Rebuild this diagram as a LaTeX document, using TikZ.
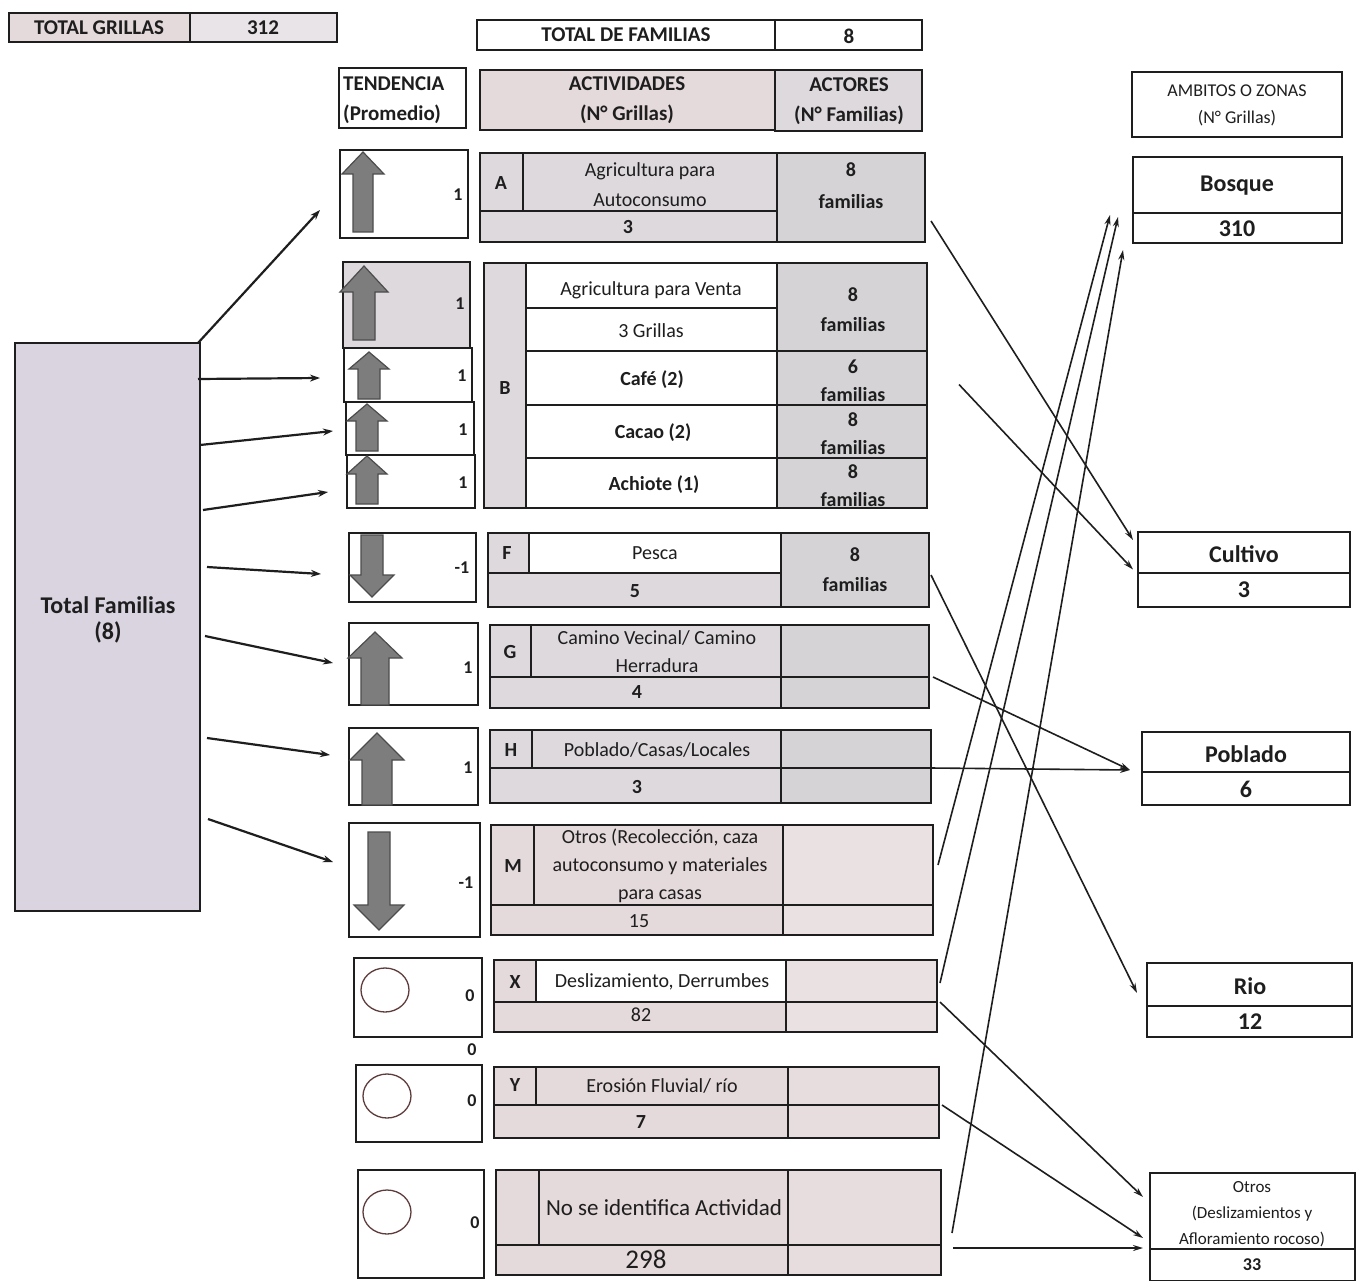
\documentclass[tikz,border=0pt]{standalone}
\usepackage{fontspec}
\setmainfont{Carlito}
\usetikzlibrary{arrows.meta,calc}
\definecolor{ink}{RGB}{30,30,30}
\definecolor{cellg}{RGB}{222,217,221}
\definecolor{actg}{RGB}{213,211,214}
\definecolor{pinkg}{RGB}{228,217,219}
\definecolor{totg}{RGB}{217,212,224}
\definecolor{arrg}{RGB}{125,125,125}
\definecolor{circc}{RGB}{95,60,60}
\newcommand\bx[6][]{\node[box,#1,minimum width={#4-#2},minimum height={#5-#3}] (#6) at (#2,#3) {};}
% block arrow: cx, tip y, head-base y, shaft-end y, head half width, shaft half width
\newcommand\blk[6]{\filldraw[blkarr] ({#1-#6},#4) -- ({#1-#6},#3) -- ({#1-#5},#3) -- (#1,#2) -- ({#1+#5},#3) -- ({#1+#6},#3) -- ({#1+#6},#4) -- cycle;}
\begin{document}
\begin{tikzpicture}[x=1pt,y=-1pt,
 box/.style={draw=ink,line width=1.6pt,anchor=north west,inner sep=0pt,outer sep=0pt,rectangle},
 ln/.style={draw=ink,line width=1.6pt},
 t/.style={font=\fontsize{20}{28}\selectfont,text=ink,align=center,inner sep=0pt},
 tb/.style={font=\fontsize{20}{28}\selectfont\bfseries,text=ink,align=center,inner sep=0pt},
 num/.style={font=\fontsize{18}{20}\selectfont\bfseries,text=ink,inner sep=0pt},
 hd/.style={font=\fontsize{21}{30}\selectfont\bfseries,text=ink,align=center,inner sep=0pt},
 zn/.style={font=\fontsize{24}{28}\selectfont\bfseries,text=ink,inner sep=0pt},
 blkarr/.style={fill=arrg,draw=black!70,line width=1.2pt,line join=miter},
 circ/.style={draw=circc,line width=1.3pt,fill=white},
 lar/.style={draw=ink,line width=2.2pt,-{Stealth[length=10pt,width=7pt]}},
 rar/.style={draw=ink,line width=1.6pt,-{Stealth[length=10pt,width=6pt]}},
]
\useasboundingbox[fill=white] (0,0) rectangle (1364,1281);

% ---------- top totals ----------
\bx[fill=pinkg]{9}{13}{190}{42}{btg}
\bx[fill=cellg!70]{190}{13}{337}{42}{btgv}
\node[hd] (ntg) at (99,28) {TOTAL GRILLAS};
\node[hd] (ntgv) at (263,28) {312};
\bx{477}{20}{775}{50}{btf}
\bx{775}{20}{922}{50}{btfv}
\node[hd] (ntf) at (626,35) {TOTAL DE FAMILIAS};
\node[hd] (ntfv) at (849,36) {8};

% ---------- headers ----------
\bx{339}{68}{466}{128}{bht}
\node[hd,align=left,anchor=west] (nht) at (343,100) {TENDENCIA\\(Promedio)};
\bx[fill=pinkg]{480}{70}{775}{130}{bha}
\node[hd] (nha) at (627,100) {ACTIVIDADES\\(N° Grillas)};
\bx[fill=cellg]{775}{70}{922}{131}{bhc}
\node[hd] (nhc) at (849,101) {ACTORES\\(N° Familias)};
\bx{1132}{72}{1342}{137}{bhz}
\node[font=\fontsize{18}{27}\selectfont,text=ink,align=center,inner sep=0pt] (nhz) at (1237,105) {AMBITOS O ZONAS\\(N° Grillas)};

% ---------- total familias ----------
\bx[fill=totg]{15}{343}{200}{911}{tot}
\node[font=\fontsize{24}{26}\selectfont\bfseries,text=ink,align=center,inner sep=0pt] (ntot) at (108,620) {Total Familias\\(8)};

% ---------- tendency boxes ----------
\bx{340}{150}{468}{238}{tA}
\bx[fill=cellg]{343}{262}{470}{348}{tB}
\bx{344}{348}{472}{402}{tCafe}
\bx{346}{402}{474}{455}{tCacao}
\bx{347}{455}{475}{508}{tAch}
\bx{349}{533}{476}{602}{tF}
\bx{349}{623}{478}{705}{tG}
\bx{349}{728}{478}{805}{tH}
\bx{349}{823}{480}{937}{tM}
\bx{354}{958}{482}{1037}{tX}
\bx{356}{1065}{482}{1142}{tY}
\bx{358}{1170}{484}{1278}{tN}

\blk{363}{152}{174}{232}{21}{10}
\blk{364}{266}{292}{340}{24}{11}
\blk{369}{352}{369}{399}{20}{11}
\blk{367}{404}{421}{451}{20}{11}
\blk{367}{456}{474}{504}{20}{11}
\blk{372}{597}{575}{535}{22}{11}
\blk{375}{632}{658}{705}{27}{14}
\blk{377}{733}{760}{805}{27}{15}
\blk{379}{930}{905}{832}{25}{11}

\draw[circ] (385,990) ellipse [x radius=24,y radius=22];
\draw[circ] (387,1096) ellipse [x radius=24,y radius=22];
\draw[circ] (387,1212) ellipse [x radius=24,y radius=22];

\node[num] (vA) at (458,195) {1};
\node[num] (vB) at (460,304) {1};
\node[num] (vCafe) at (462,376) {1};
\node[num] (vCacao) at (463,430) {1};
\node[num] (vAch) at (463,483) {1};
\node[num] (vF) at (462,568) {-1};
\node[num] (vG) at (468,668) {1};
\node[num] (vH) at (468,768) {1};
\node[num] (vM) at (466,883) {-1};
\node[num] (vX) at (470,996) {0};
\node[num] (vXb) at (472,1050) {0};
\node[num] (vY) at (472,1101) {0};
\node[num] (vN) at (475,1223) {0};

% ---------- activity A ----------
\fill[cellg] (480,153) rectangle (777,242);
\fill[actg] (777,153) rectangle (925,242);
\draw[ln] (523,153) -- (523,211) (480,211) -- (777,211) (777,153) -- (777,242);
\bx{480}{153}{925}{242}{aA}
\node[tb] (lA) at (501,183) {A};
\node[t,font=\fontsize{20}{30}\selectfont] (nA) at (650,185) {Agricultura para\\Autoconsumo};
\node[tb] (gA) at (628,227) {3};
\node[tb,font=\fontsize{20}{32}\selectfont\bfseries] (fA) at (851,186) {8\\familias};

% ---------- activity B ----------
\fill[cellg] (484,263) rectangle (526,508);
\fill[actg] (777,263) rectangle (927,508);
\draw[ln] (526,263) -- (526,508) (526,308) -- (777,308) (526,351) -- (927,351)
  (526,405) -- (927,405) (526,458) -- (927,458) (777,263) -- (777,508);
\bx{484}{263}{927}{508}{aB}
\node[tb] (lB) at (505,388) {B};
\node[t] (nB) at (651,290) {Agricultura para Venta};
\node[t] (gB) at (651,331) {3 Grillas};
\node[tb,font=\fontsize{20}{30}\selectfont\bfseries] (fB) at (853,310) {8\\familias};
\node[tb] (nCafe) at (652,380) {Café (2)};
\node[tb] (fCafe) at (853,381) {6\\familias};
\node[tb] (nCacao) at (653,433) {Cacao (2)};
\node[tb] (fCacao) at (853,434) {8\\familias};
\node[tb] (nAch) at (654,485) {Achiote (1)};
\node[tb] (fAch) at (853,486) {8\\familias};

% ---------- activity F ----------
\fill[cellg] (488,533) rectangle (529,573);
\fill[cellg] (488,573) rectangle (781,607);
\fill[actg] (781,533) rectangle (929,607);
\draw[ln] (529,533) -- (529,573) (488,573) -- (781,573) (781,533) -- (781,607);
\bx{488}{533}{929}{607}{aF}
\node[tb] (lF) at (507,553) {F};
\node[t] (nF) at (655,553) {Pesca};
\node[tb] (gF) at (635,591) {5};
\node[tb,font=\fontsize{20}{30}\selectfont\bfseries] (fF) at (855,570) {8\\familias};

% ---------- activity G ----------
\fill[cellg] (490,625) rectangle (781,708);
\fill[actg] (781,625) rectangle (929,708);
\draw[ln] (531,625) -- (531,677) (490,677) -- (929,677) (781,625) -- (781,708);
\bx{490}{625}{929}{708}{aG}
\node[tb] (lG) at (510,652) {G};
\node[t] (nG) at (657,652) {Camino Vecinal/ Camino\\Herradura};
\node[tb] (gG) at (637,692) {4};

% ---------- activity H ----------
\fill[cellg] (490,730) rectangle (781,803);
\fill[actg] (781,730) rectangle (931,803);
\draw[ln] (532,730) -- (532,768) (490,768) -- (931,768) (781,730) -- (781,803);
\bx{490}{730}{931}{803}{aH}
\node[tb] (lH) at (511,750) {H};
\node[t] (nH) at (657,750) {Poblado/Casas/Locales};
\node[tb] (gH) at (637,787) {3};

% ---------- activity M ----------
\fill[pinkg] (491,825) rectangle (783,935);
\fill[pinkg!80] (783,825) rectangle (933,935);
\draw[ln] (534,825) -- (534,905) (491,905) -- (933,905) (783,825) -- (783,935);
\bx{491}{825}{933}{935}{aM}
\node[tb] (lM) at (513,866) {M};
\node[t] (nM) at (660,866) {Otros (Recolección, caza\\autoconsumo y materiales\\para casas};
\node[t] (gM) at (639,921) {15};

% ---------- activity X ----------
\fill[pinkg] (494,960) rectangle (536,1002);
\fill[pinkg] (494,1002) rectangle (786,1032);
\fill[pinkg!80] (786,960) rectangle (937,1032);
\draw[ln] (536,960) -- (536,1002) (494,1002) -- (937,1002) (786,960) -- (786,1032);
\bx{494}{960}{937}{1032}{aX}
\node[tb] (lX) at (515,982) {X};
\node[t] (nX) at (662,982) {Deslizamiento, Derrumbes};
\node[t] (gX) at (641,1015) {82};

% ---------- activity Y ----------
\fill[pinkg] (494,1067) rectangle (788,1138);
\fill[pinkg!90] (788,1067) rectangle (939,1138);
\draw[ln] (536,1067) -- (536,1105) (494,1105) -- (939,1105) (788,1067) -- (788,1138);
\bx{494}{1067}{939}{1138}{aY}
\node[tb] (lY) at (515,1085) {Y};
\node[t] (nY) at (662,1086) {Erosión Fluvial/ río};
\node[tb] (gY) at (641,1122) {7};

% ---------- activity N ----------
\fill[pinkg] (496,1170) rectangle (788,1275);
\fill[pinkg!90] (788,1170) rectangle (941,1275);
\draw[ln] (539,1170) -- (539,1245) (496,1245) -- (941,1245) (788,1170) -- (788,1275);
\bx{496}{1170}{941}{1275}{aN}
\node[t,font=\fontsize{23}{28}\selectfont] (nN) at (664,1208) {No se identifica Actividad};
\node[t,font=\fontsize{27}{30}\selectfont] (gN) at (646,1259) {298};

% ---------- zones ----------
\bx{1133}{157}{1342}{243}{bosque}
\draw[ln] (1133,213) -- (1342,213);
\node[zn] (zb) at (1237,186) {Bosque};
\node[zn] (zbv) at (1237,229) {310};

\bx{1138}{532}{1350}{607}{cultivo}
\draw[ln] (1138,573) -- (1350,573);
\node[zn] (zc) at (1244,554) {Cultivo};
\node[zn] (zcv) at (1244,590) {3};

\bx{1142}{732}{1350}{805}{poblado}
\draw[ln] (1142,772) -- (1350,772);
\node[zn] (zp) at (1246,754) {Poblado};
\node[zn] (zpv) at (1246,789) {6};

\bx{1147}{963}{1352}{1037}{rio}
\draw[ln] (1147,1006) -- (1352,1006);
\node[zn] (zr) at (1250,986) {Rio};
\node[zn] (zrv) at (1250,1022) {12};

\bx{1150}{1173}{1355}{1281}{otros}
\node[font=\fontsize{17}{26}\selectfont,text=ink,align=center,inner sep=0pt] (zo) at (1252,1214) {Otros\\(Deslizamientos y\\Afloramiento rocoso)};
\draw[ln] (1150,1249) -- (1355,1249);
\node[font=\fontsize{18}{20}\selectfont\bfseries,text=ink,inner sep=0pt] (zov) at (1252,1265) {33};

% ---------- connectors: total -> tendencies ----------
\draw[lar] ($(tot.north east)+(-2,0)$) -- ($(tA.west)+(-20,16)$);
\draw[lar] ($(tot.north east)+(-2,36)$) -- ($(tCafe.west)+(-24,3)$);
\draw[lar] ($(tot.north east)+(0,102)$) -- ($(tCacao.west)+(-13,2.5)$);
\draw[lar] ($(tot.north east)+(3,167)$) -- ($(tAch.west)+(-19,10.5)$);
\draw[lar] ($(tot.north east)+(7,224)$) -- ($(tF.west)+(-28,6.5)$);
\draw[lar] ($(tot.north east)+(5,293)$) -- ($(tG.west)+(-16,-1)$);
\draw[lar] ($(tot.north east)+(7,395)$) -- ($(tH.west)+(-19,-11.5)$);
\draw[lar] ($(tot.north east)+(8,476)$) -- ($(tM.west)+(-16,-18)$);

% ---------- connectors: activities -> zones ----------
\draw[rar] ($(aA.east)+(6,23.5)$) -- ($(cultivo.north west)+(-5,8)$);
\draw[rar] ($(aB.east)+(32,-1)$) -- ($(cultivo.west)+(-5,0)$);
\draw[rar] ($(aF.east)+(2,5)$) -- ($(rio.west)+(-10,-7)$);
\draw[rar] ($(aG.east)+(4,10.5)$) -- ($(poblado.west)+(-12,1.5)$);
\draw[rar] ($(aH.east)+(0,1.5)$) -- ($(poblado.west)+(-12,1.5)$);
\draw[rar] ($(aM.east)+(5,-15)$) -- ($(bosque.south west)+(-23,-28)$);
\draw[rar] ($(aX.east)+(3,-13)$) -- ($(bosque.south west)+(-15,-26)$);
\draw[rar] ($(aN.east)+(11,10.5)$) -- ($(bosque.south west)+(-10,7)$);
\draw[rar] ($(aX.east)+(3,6)$) -- ($(otros.west)+(-7,-30)$);
\draw[rar] ($(aY.east)+(3,2.5)$) -- ($(otros.west)+(-7,11)$);
\draw[rar] ($(aN.east)+(12,25.5)$) -- ($(otros.west)+(-7,21)$);
\end{tikzpicture}
\end{document}
